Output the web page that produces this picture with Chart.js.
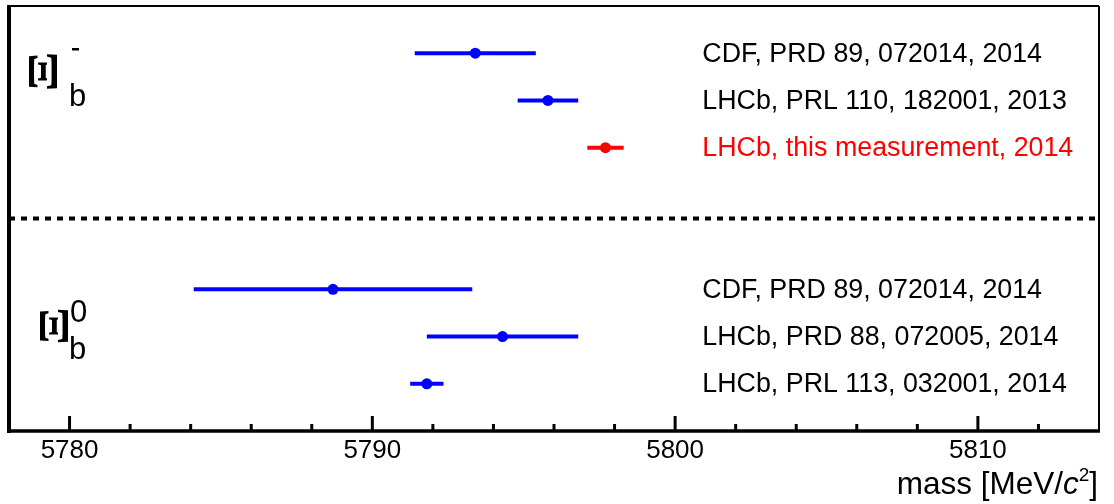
<!DOCTYPE html>
<html>
<head>
<meta charset="utf-8">
<script src="https://cdn.jsdelivr.net/npm/chart.js@4/dist/chart.umd.min.js"></script>
<style>
  html, body { margin: 0; padding: 0; background: #ffffff; }
  #wrap { width: 1114px; height: 504px; }
</style>
</head>
<body>
<div id="wrap"><canvas id="c" width="1114" height="504"></canvas></div>
<script>
// ---- data ----
const categories = [
  'CDF, PRD 89, 072014, 2014',
  'LHCb, PRL 110, 182001, 2013',
  'LHCb, this measurement, 2014',
  'CDF, PRD 89, 072014, 2014',
  'LHCb, PRD 88, 072005, 2014',
  'LHCb, PRL 113, 032001, 2014'
];
const masses = [5793.4, 5795.8, 5797.7, 5788.7, 5794.3, 5791.8];
const errors = [2.0, 1.0, 0.6, 4.6, 2.5, 0.55];
const rows = [1, 2, 3, 6, 7, 8];
const groupNames = ['-', '0'];          // Ξb superscripts
const groupSeparator = 4.5;              // dashed line row
const tickLabels = [5780, 5790, 5800, 5810];
const xMin = 5778, xMax = 5814, yMin = 0, yMax = 9;
const thisMeasurement = 2;

const BLUE = '#0000ff', RED = '#ff0000';
const colorOf = i => (i === thisMeasurement ? RED : BLUE);
const SANS = '"Liberation Sans", Arial, sans-serif';
const SERIF = '"Liberation Serif", "Times New Roman", serif';

const points = masses.map((m, i) => ({ x: m, y: rows[i] }));

const errorBars = {
  id: 'errorBars',
  beforeDatasetsDraw(chart) {
    const { ctx, scales: { x, y } } = chart;
    ctx.save();
    ctx.lineWidth = 4;
    ctx.lineCap = 'butt';
    masses.forEach((m, i) => {
      const py = y.getPixelForValue(rows[i]);
      ctx.strokeStyle = colorOf(i);
      ctx.beginPath();
      ctx.moveTo(x.getPixelForValue(m - errors[i]), py);
      ctx.lineTo(x.getPixelForValue(m + errors[i]), py);
      ctx.stroke();
    });
    ctx.restore();
  }
};

function drawRotXi(ctx, cx, cy, w, h) {
  ctx.save();
  ctx.font = 'bold 40px ' + SERIF;
  const m = ctx.measureText('Ξ');
  const gw = m.actualBoundingBoxLeft + m.actualBoundingBoxRight;
  const gh = m.actualBoundingBoxAscent + m.actualBoundingBoxDescent;
  const gcx = (m.actualBoundingBoxRight - m.actualBoundingBoxLeft) / 2;
  const gcy = (m.actualBoundingBoxDescent - m.actualBoundingBoxAscent) / 2;
  ctx.translate(cx, cy);
  ctx.rotate(-Math.PI / 2);
  ctx.scale(h / gw, w / gh);
  ctx.textAlign = 'left';
  ctx.textBaseline = 'alphabetic';
  ctx.fillStyle = '#000';
  ctx.fillText('Ξ', -gcx, -gcy);
  ctx.restore();
}

const decorations = {
  id: 'decorations',
  afterDraw(chart) {
    const { ctx, chartArea: a, scales: { x, y } } = chart;
    ctx.save();
    // dashed separator
    ctx.strokeStyle = '#000';
    ctx.lineWidth = 4;
    ctx.setLineDash([6, 6]);
    const ys = y.getPixelForValue(groupSeparator);
    ctx.beginPath();
    ctx.moveTo(a.left, ys);
    ctx.lineTo(a.right, ys);
    ctx.stroke();
    ctx.setLineDash([]);

    // frame
    ctx.lineWidth = 2;
    ctx.beginPath();
    ctx.moveTo(a.left, a.top); ctx.lineTo(a.right, a.top);
    ctx.moveTo(a.right, a.top); ctx.lineTo(a.right, a.bottom);
    ctx.stroke();
    ctx.lineWidth = 4;
    ctx.beginPath();
    ctx.moveTo(a.left, a.top - 1); ctx.lineTo(a.left, a.bottom + 2);
    ctx.stroke();
    ctx.lineWidth = 3.4;
    ctx.beginPath();
    ctx.moveTo(a.left - 2, a.bottom); ctx.lineTo(a.right + 1, a.bottom);
    ctx.stroke();

    // inward tick marks
    ctx.lineWidth = 3;
    x.ticks.forEach(t => {
      if (t.value <= xMin || t.value >= xMax) return;
      const px = x.getPixelForValue(t.value);
      const len = tickLabels.includes(t.value) ? 15 : 7;
      ctx.beginPath();
      ctx.moveTo(px, a.bottom);
      ctx.lineTo(px, a.bottom - len);
      ctx.stroke();
    });

    // right-hand reference labels
    ctx.font = '26.8px ' + SANS;
    ctx.textAlign = 'left';
    ctx.textBaseline = 'middle';
    const lx = x.getPixelForValue(5800.9);
    categories.forEach((c, i) => {
      ctx.fillStyle = i === thisMeasurement ? RED : '#000';
      ctx.fillText(c, lx, y.getPixelForValue(rows[i]) + 1);
    });

    // particle labels Ξb- and Ξb0
    ctx.fillStyle = '#000';
    // Ξb-
    drawRotXi(ctx, 54, 71.5, 28, 37);
    ctx.fillRect(72, 48, 7, 2.5);
    ctx.font = '31px ' + SANS;
    ctx.textBaseline = 'alphabetic';
    ctx.fillText('b', 69, 106);
    // Ξb0
    drawRotXi(ctx, 54, 326, 28, 35);
    ctx.fillText(groupNames[1], 70, 322);
    ctx.fillText('b', 69, 359);

    // axis title: mass [MeV/c^2]
    const base = 494, right = a.right - 1;
    const f1 = '31.5px ' + SANS, fi = 'italic 31.5px ' + SANS, fs = '19px ' + SANS;
    const parts = [
      { t: 'mass [MeV/', f: f1, dy: 0 },
      { t: 'c', f: fi, dy: 0 },
      { t: '2', f: fs, dy: -13 },
      { t: ']', f: f1, dy: 0 }
    ];
    let total = 0;
    parts.forEach(p => { ctx.font = p.f; p.w = ctx.measureText(p.t).width; total += p.w; });
    let cx = right - total;
    parts.forEach(p => { ctx.font = p.f; ctx.fillText(p.t, cx, base + p.dy); cx += p.w; });
    ctx.restore();
  }
};

new Chart(document.getElementById('c'), {
  type: 'scatter',
  data: {
    datasets: [{
      data: points,
      pointRadius: 5.5,
      pointHoverRadius: 5.5,
      pointBorderWidth: 0,
      pointBackgroundColor: masses.map((m, i) => colorOf(i)),
      pointBorderColor: masses.map((m, i) => colorOf(i)),
      showLine: false
    }]
  },
  options: {
    responsive: false,
    animation: false,
    events: [],
    layout: { padding: { left: 9, right: 15, top: 6, bottom: 0 } },
    plugins: { legend: { display: false }, tooltip: { enabled: false } },
    scales: {
      x: {
        type: 'linear',
        min: xMin, max: xMax,
        grid: { display: false },
        border: { display: false },
        afterFit: s => { s.height = 73; },
        ticks: {
          stepSize: 2,
          autoSkip: false,
          maxRotation: 0,
          padding: -4,
          color: '#000',
          font: { family: SANS, size: 26 },
          callback: v => (tickLabels.includes(v) ? String(v) : '')
        }
      },
      y: {
        type: 'linear',
        min: yMin, max: yMax,
        reverse: true,
        display: false
      }
    }
  },
  plugins: [errorBars, decorations]
});
</script>
</body>
</html>
